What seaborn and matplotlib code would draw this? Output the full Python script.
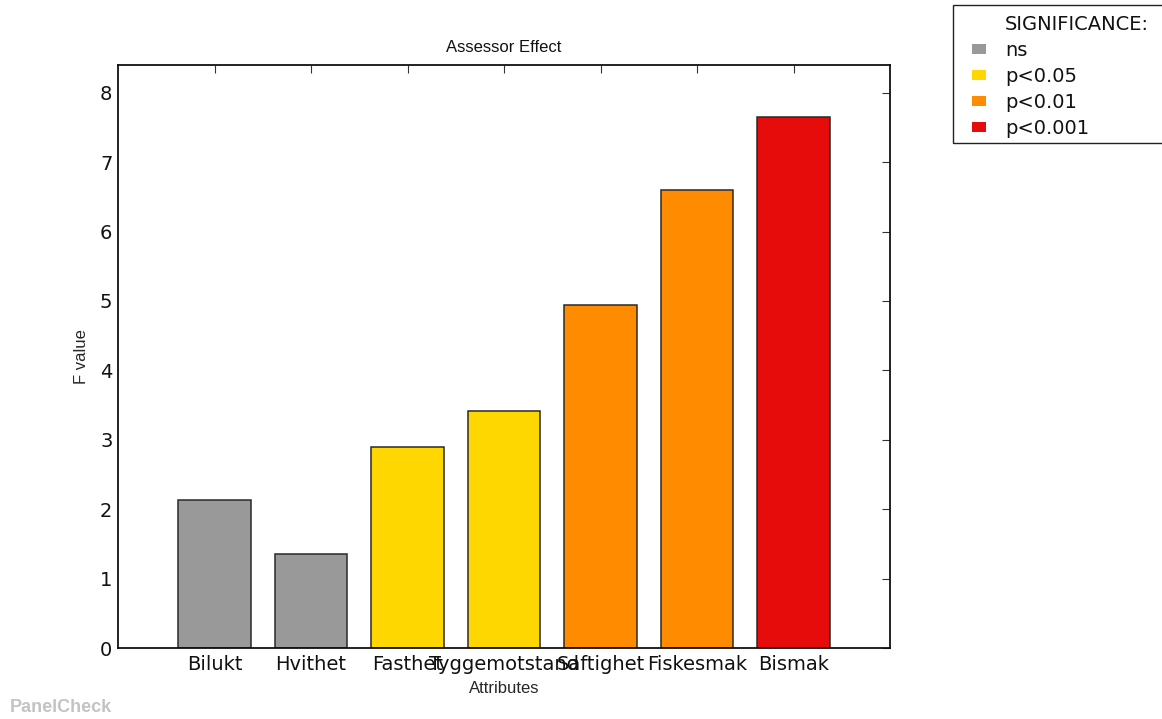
import matplotlib
matplotlib.use("Agg")
import matplotlib.pyplot as plt
from matplotlib.patches import Patch, Rectangle
import seaborn as sns
import pandas as pd

# F values of the assessor effect per attribute
attributes = ["Bilukt", "Hvithet", "Fasthet", "Tyggemotstand", "Saftighet", "Fiskesmak", "Bismak"]
f_values = [2.13, 1.36, 2.90, 3.41, 4.94, 6.60, 7.65]
significance = ["ns", "ns", "p<0.05", "p<0.05", "p<0.01", "p<0.01", "p<0.001"]

levels = ["ns", "p<0.05", "p<0.01", "p<0.001"]
level_colors = ["#999999", "#FFD700", "#FF8C00", "#E60C0C"]
palette = dict(zip(levels, level_colors))

df = pd.DataFrame({"Attribute": attributes, "F": f_values, "Sig": significance})

sns.set_style("white")
plt.rcParams["font.family"] = ["DejaVu Sans"]
plt.rcParams["text.color"] = "#111111"

W, H = 1162, 719
fig = plt.figure(figsize=(W / 100, H / 100), dpi=100)
ax = fig.add_axes([118 / W, 1 - 648 / H, (890 - 118) / W, (648 - 65) / H])

sns.barplot(data=df, x="Attribute", y="F", hue="Sig", hue_order=levels,
            palette=palette, dodge=False, width=0.75, edgecolor="#2a2a2a",
            linewidth=1.1, saturation=1, legend=False, ax=ax)

ax.set_xlim(-1, 7)
ax.set_ylim(0, 8.4)
ax.set_yticks(range(0, 9))

for s in ax.spines.values():
    s.set_visible(True)
    s.set_color("#111111")
    s.set_linewidth(1.3)

ax.tick_params(axis="both", which="major", direction="in", length=6, width=0.8,
               top=True, right=True, labelsize=14, color="#333333",
               labelcolor="#111111")
ax.tick_params(axis="x", pad=5)
ax.tick_params(axis="y", pad=4)

narrow = "Liberation Sans"
ax.set_title("Assessor Effect", fontsize=12, family=narrow, pad=9)
ax.set_xlabel("Attributes", fontsize=12, family=narrow, labelpad=5)
ax.set_ylabel("F value", fontsize=12, family=narrow, labelpad=8)

# Significance legend: heading row plus one swatch per level, in a box
# running off the right edge of the figure
handles = [Patch(facecolor="none", edgecolor="none", label="SIGNIFICANCE:")]
handles += [Patch(facecolor=palette[l], edgecolor="none", label=l) for l in levels]
leg = fig.legend(handles=handles, loc="upper left",
                 bbox_to_anchor=(972 / W, 1 - 15 / H), fontsize=14,
                 frameon=False, handlelength=0.72, handleheight=0.42,
                 handletextpad=0.98, labelspacing=0.36, borderpad=0,
                 borderaxespad=0)
fig.patches.append(Rectangle((953 / W, 1 - 143 / H), 230 / W, 138 / H,
                             transform=fig.transFigure, fill=False,
                             edgecolor="#222222", linewidth=1.0))

fig.text(10 / W, 1 - 707 / H, "PanelCheck", fontsize=13, fontweight="bold",
         color="#C3C3C3", family=narrow, va="center", ha="left")

fig.savefig("out.png", dpi=100)
